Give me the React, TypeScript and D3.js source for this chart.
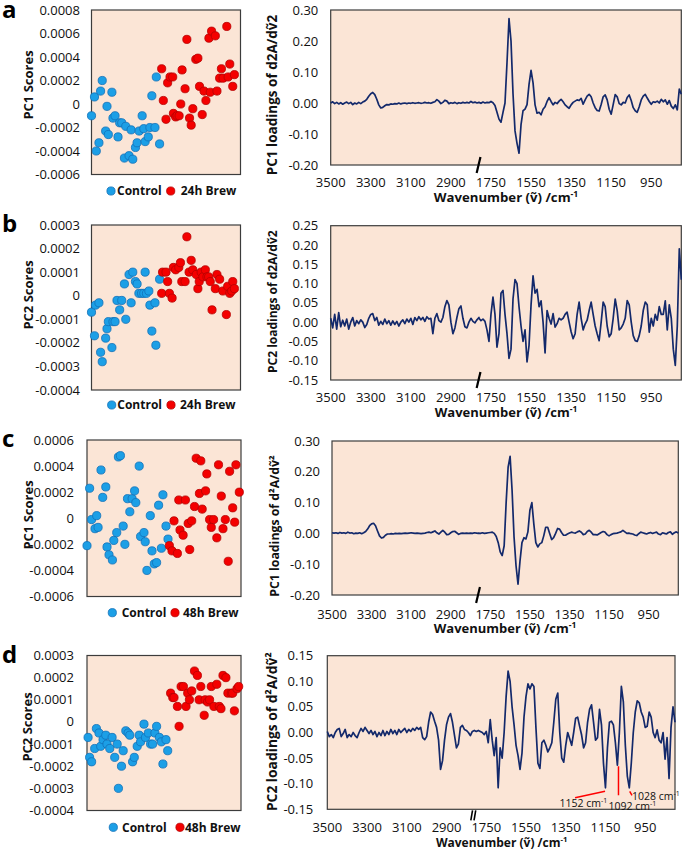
import React from "react";
import * as d3 from "d3";

const FONT = "'Open Sans', 'Liberation Sans', sans-serif";
const PANEL_BG = "#FBE5D6";
const FRAME = "#3c3c3c";
const LINE_COLOR = "#13296B";
const CONTROL_FILL = "#1C9FE6";
const CONTROL_STROKE = "#1270B8";
const BREW_FILL = "#F40000";
const BREW_STROKE = "#B50000";

const LOCALE = d3.formatLocale({ decimal: ".", thousands: ",", grouping: [3], currency: ["", ""], minus: "-" });
const fmtLoad = LOCALE.format(".2f");
const fmt4 = LOCALE.format(".4f");
const fmtScore = (v: number) => (Math.abs(v) < 1e-12 ? "0" : fmt4(v));

// ---- PCA scores: [sample position, score] ----
const scoresAControl: [number, number][] = [
  [0.0, -0.0001], [2.0, 0.00006], [3.2, -0.0004], [5.0, -0.00033], [6.1, 0.00011], [7.2, 0.0002],
  [9.5, -0.00023], [10.4, -0.00002], [11.3, -0.00026], [13.7, 0.0001], [14.4, -0.00012], [15.8, -0.0001],
  [17.8, -0.00028], [18.9, -0.00016], [20.3, -0.00016], [22.1, -0.00046], [23.0, -0.00019], [25.2, -0.00044],
  [26.6, -0.00022], [27.7, -0.00047], [29.5, -0.00037], [30.6, -0.00033], [32.0, -0.00023], [34.0, -0.0001],
  [35.1, -0.00021], [36.0, -0.00032], [38.1, -0.00028], [39.2, -0.0002], [40.5, 0.00007], [42.6, -0.0002],
  [43.5, 0.00023], [45.7, -0.00034],
];
const scoresABrew: [number, number][] = [
  [47.1, 0.0003], [48.2, 0.00003], [50.0, -0.00013], [51.1, 0.00018], [52.7, 0.00023], [54.5, 0.00023],
  [55.0, -0.00008], [56.5, -0.00011], [57.4, -0.0001], [58.8, -0.0001], [59.9, 0.0], [60.8, 0.00029],
  [62.8, 0.00013], [64.0, 0.00055], [65.8, -0.00012], [66.9, -0.00018], [68.0, -0.00004], [70.0, 0.00038],
  [71.4, 0.00039], [72.5, 0.00015], [74.3, -0.00009], [75.5, 0.00011], [76.8, 0.00003], [78.8, 0.00056],
  [79.7, 0.0001], [80.6, 0.00062], [83.1, 0.00058], [84.2, 0.00011], [86.0, 0.00022], [87.2, 0.0003],
  [88.3, 0.00022], [90.8, 0.00066], [91.7, 0.00023], [92.8, 0.00034], [94.8, 0.00015], [95.9, 0.00025],
];
const scoresBControl: [number, number][] = [
  [0.0, -0.00007], [2.0, -0.00017], [2.7, -0.00004], [5.0, -0.00003], [6.1, -0.00024], [7.2, -0.00028],
  [9.5, -0.00018], [10.4, -0.00014], [11.3, -0.00011], [13.7, -0.00022], [14.4, -0.00011], [15.8, -0.00011],
  [17.1, -0.00002], [18.9, -0.00006], [20.3, -0.00002], [22.1, 0.00005], [23.0, -0.0001], [25.2, 0.00009],
  [26.6, -0.00003], [27.7, 0.0001], [29.5, 0.00006], [30.6, 0.00005], [31.8, 0.00001], [33.6, 0.00001],
  [35.1, 0.00001], [36.0, 0.0001], [36.9, 0.00001], [38.5, 0.00002], [39.2, -0.00004], [40.5, -0.00015],
  [42.6, -0.00003], [43.2, -0.00021], [45.7, 0.00007],
];
const scoresBBrew: [number, number][] = [
  [47.1, 0.00001], [47.7, 0.0001], [50.0, 0.0001], [51.1, 0.00006], [52.3, 0.00001], [54.1, -0.00001],
  [55.0, 0.00012], [56.5, 0.00011], [58.6, 0.00012], [59.7, 0.00014], [60.6, 0.00006], [62.8, 0.00006],
  [64.0, 0.00025], [65.5, 0.0001], [66.9, 0.00015], [68.0, 0.00011], [70.3, 0.00009], [71.4, 0.00003],
  [72.3, 0.00006], [73.6, 0.0001], [74.8, 0.00008], [76.4, 0.00011], [77.5, 0.00008], [78.6, 0.00008],
  [79.7, 0.00006], [80.9, -0.00006], [83.1, 0.00003], [84.2, 0.00009], [86.0, 0.00007], [88.1, 0.00002],
  [90.5, -0.00008], [91.4, 0.00004], [92.8, 0.00001], [94.1, 0.00002], [94.8, 0.00006], [95.9, 0.00003],
];
const scoresCControl: [number, number][] = [
  [0.0, -0.00021], [1.7, 0.00023], [3.0, -0.00001], [5.2, -0.00008], [6.3, 0.00002], [7.2, -0.00007],
  [9.1, 0.00037], [10.2, 0.00016], [12.2, 0.00024], [13.0, -0.00022], [14.3, -0.00028], [16.5, -0.00032],
  [17.4, -0.00017], [19.3, -0.00011], [20.4, 0.00047], [21.7, 0.00048], [23.5, -0.00006], [24.6, -0.0002],
  [26.3, 0.00015], [27.8, 0.00005], [29.3, 0.00015], [30.9, 0.00021], [31.7, 0.00012], [33.9, 0.0004],
  [34.8, -0.00014], [37.0, -0.00011], [37.8, -0.00018], [38.9, -0.0004], [41.1, 0.00002], [42.2, -0.00025],
  [43.7, -0.00035], [45.2, -0.00034], [46.5, 0.0001], [48.3, -0.00023], [49.3, 0.00018], [51.3, -0.00006],
  [52.6, -0.00016],
];
const scoresCBrew: [number, number][] = [
  [53.5, -0.00021], [55.2, -0.00025], [56.5, -0.00002], [58.7, -0.00027], [59.6, 0.00014], [60.4, -0.00009],
  [62.4, -0.00013], [63.9, 0.00014], [65.7, -0.00004], [66.7, -0.00024], [68.0, -0.00002], [69.8, 0.00009],
  [70.9, 0.00046], [73.0, 0.00019], [73.9, 0.00044], [74.8, 0.00007], [77.0, 0.00021], [77.8, 0.00034],
  [79.6, -0.00001], [80.7, -0.00007], [82.2, -0.00001], [84.3, -0.00015], [85.4, 0.00041], [87.2, 0.00017],
  [88.3, -0.00008], [89.8, -0.00001], [91.7, -0.00033], [92.6, 0.00036], [94.6, 0.00008], [95.9, -0.00003],
  [96.7, 0.00041], [98.9, 0.0002],
];
const scoresDControl: [number, number][] = [
  [0.7, -0.00007], [1.7, -0.00016], [3.0, -0.00018], [5.0, -0.00012], [6.1, -0.00003], [7.8, -0.00005],
  [8.9, -0.00011], [10.4, -0.00008], [12.2, -0.00006], [13.0, -0.0001], [14.8, -0.00012], [16.3, -0.00007],
  [18.0, -0.00016], [19.6, -0.0001], [20.4, -0.0003], [22.4, -0.0002], [23.5, -0.00013], [25.2, -0.00004],
  [26.7, -0.00005], [27.8, -0.00006], [29.6, -0.00018], [30.7, -0.00016], [32.6, -0.00011], [33.9, -0.00006],
  [34.8, -0.00009], [37.0, -0.00001], [38.0, -0.00007], [39.8, -0.00005], [41.3, -0.0001], [42.6, -0.0001],
  [44.1, -0.00005], [45.2, -0.00002], [47.0, -0.00007], [48.3, -0.00009], [49.3, -0.00019], [51.3, -0.00008],
  [52.4, -0.00013],
];
const scoresDBrew: [number, number][] = [
  [54.3, 0.00013], [55.7, 0.00011], [56.5, 0.00011], [58.7, 0.00007], [59.8, -0.00002], [61.1, 0.00016],
  [62.6, 0.00016], [64.3, 0.00007], [65.4, 0.00013], [66.5, 0.0001], [68.0, 0.00014], [69.8, 0.00023],
  [71.7, 0.00021], [72.8, 0.0001], [73.9, 0.00016], [76.1, 0.00003], [76.7, 0.0001], [78.3, 0.00009],
  [79.6, 0.0001], [80.7, 0.00016], [82.4, 0.00007], [84.3, 0.00017], [85.9, 0.00007], [87.0, 0.00006],
  [88.3, 0.00021], [90.2, 0.0002], [91.5, 0.00013], [93.7, 0.00013], [94.6, 0.00013], [95.7, 0.00005],
  [97.4, 0.00015], [98.5, 0.00016],
];

// ---- Loadings spectra, sampled every 10 cm-1 on both sides of the axis break ----
const waveHigh = d3.range(3500, 2755, -10); // 3500 ... 2760
const waveLow = d3.range(1810, 795, -10); // 1810 ... 800
const waveTicks = [3500, 3300, 3100, 2900, 1750, 1550, 1350, 1150, 950];

const loadAHigh = [
  0.0, 0.004, -0.002, 0.002, -0.003, 0.001, -0.004, 0.0, 0.003, -0.002,
  0.002, -0.005, 0.0, -0.003, 0.002, -0.002, 0.003, 0.006, 0.012, 0.022,
  0.03, 0.034, 0.027, 0.012, -0.006, -0.016, -0.014, -0.009, -0.005, -0.006,
  -0.003, -0.004, -0.002, -0.003, 0.0, -0.003, -0.001, 0.0, -0.002, 0.0,
  -0.001, 0.001, -0.001, 0.0, 0.001, -0.001, 0.0, 0.002, 0.0, 0.001,
  -0.001, 0.002, 0.004, 0.011, 0.006, -0.002, 0.002, 0.009, 0.006, -0.002,
  0.001, -0.001, 0.002, -0.002, 0.001, -0.001, 0.002, 0.0, 0.002, 0.0,
  0.005, 0.001, 0.003, 0.0, 0.002,
];
const loadALow = [
  0.002, -0.001, 0.003, 0.0, 0.002, 0.001, 0.005, 0.001, -0.008, -0.03,
  -0.052, -0.062, -0.03, 0.0, 0.13, 0.272, 0.2, 0.03, -0.09, -0.13,
  -0.162, -0.07, -0.025, -0.02, -0.005, 0.06, 0.105, 0.065, -0.006, -0.033,
  -0.03, -0.038, -0.02, -0.012, 0.005, 0.017, 0.005, -0.006, 0.002, -0.002,
  0.006, 0.012, 0.004, -0.006, -0.012, -0.017, -0.006, 0.002, 0.006, 0.01,
  0.008, 0.015, -0.004, 0.01, 0.022, 0.028, 0.02, 0.0, -0.015, -0.024,
  -0.026, -0.005, 0.02, 0.026, 0.01, -0.02, -0.036, -0.005, 0.027, 0.02,
  -0.002, -0.006, 0.002, 0.0, 0.018, 0.026, 0.008, -0.015, -0.025, -0.03,
  -0.012, 0.01, 0.022, 0.028, 0.016, 0.005, -0.004, 0.004, 0.002, 0.006,
  0.0, 0.012, 0.004, 0.01, -0.004, 0.008, -0.01, -0.018, -0.006, -0.022,
  0.045, 0.028,
];
const loadBHigh = [
  0.01, -0.015, 0.02, -0.018, 0.025, -0.012, 0.005, -0.01, 0.008, -0.018,
  0.0, 0.012, -0.01, 0.004, -0.004, 0.006, 0.0, -0.014, -0.006, 0.01,
  0.02, 0.022, 0.004, 0.012, -0.008, 0.002, -0.006, 0.008, -0.004, 0.004,
  -0.008, 0.003, -0.006, 0.002, -0.01, 0.0, 0.006, -0.004, 0.008, 0.0,
  0.01, -0.006, 0.012, 0.004, 0.014, 0.006, 0.012, 0.002, 0.014, 0.008,
  0.01, -0.03, 0.01, 0.022, 0.004, 0.0, 0.012, 0.04, 0.056, 0.045,
  0.0, -0.03, -0.015, 0.012, 0.035, 0.042, 0.01, -0.012, -0.015, 0.0,
  0.01, 0.002, -0.002, 0.006, 0.012,
];
const loadBLow = [
  0.01, 0.004, 0.008, 0.002, -0.02, -0.05, 0.02, 0.065, 0.02, -0.065,
  -0.03, 0.075, 0.082, 0.02, -0.03, -0.094, -0.07, 0.06, 0.11, 0.1,
  0.04, -0.01, -0.05, -0.02, -0.103, -0.06, 0.044, 0.12, 0.075, 0.085,
  0.04, 0.055, 0.0, -0.08, 0.03, 0.01, -0.005, 0.022, -0.013, -0.004,
  0.01, 0.006, 0.01, 0.02, 0.026, 0.0, -0.025, -0.043, -0.03, 0.02,
  0.052, 0.01, -0.02, -0.005, 0.005, 0.03, 0.052, 0.02, -0.01, -0.03,
  -0.048, 0.0, 0.052, 0.04, -0.01, -0.038, -0.03, 0.01, 0.06, 0.03,
  -0.02, -0.015, -0.005, 0.01, 0.056, 0.045, 0.0, -0.035, -0.048, -0.05,
  -0.035, -0.01, 0.03, 0.052, 0.045, -0.026, 0.01, -0.01, 0.02, 0.005,
  0.04, 0.02, 0.02, 0.055, -0.02, 0.045, 0.01, -0.07, -0.112, -0.01,
  0.19, 0.11,
];
const loadCHigh = [
  0.002, 0.001, 0.002, 0.0, 0.003, 0.001, 0.002, 0.0, 0.004, 0.001,
  0.002, -0.001, 0.001, 0.0, 0.002, -0.001, 0.002, 0.006, 0.014, 0.025,
  0.031, 0.033, 0.025, 0.008, -0.008, -0.015, -0.013, -0.006, -0.002, -0.002,
  -0.001, -0.002, 0.0, -0.001, 0.0, -0.001, 0.0, 0.001, 0.0, 0.001,
  0.002, 0.001, 0.0, 0.001, 0.0, -0.001, 0.0, 0.001, 0.003, 0.004,
  0.002, 0.005, 0.008, 0.002, -0.002, 0.004, 0.01, 0.004, -0.004, -0.003,
  0.002, 0.006, 0.007, 0.002, -0.003, 0.0, 0.001, 0.0, 0.001, 0.0,
  0.001, 0.0, 0.002, 0.001, 0.0,
];
const loadCLow = [
  0.001, 0.0, 0.002, 0.0, 0.001, 0.002, 0.003, 0.004, 0.0, -0.01,
  -0.03, -0.06, -0.072, -0.04, 0.1, 0.215, 0.25, 0.14, -0.012, -0.105,
  -0.165, -0.09, -0.03, -0.014, -0.018, 0.005, 0.075, 0.1, 0.03, -0.03,
  -0.044, -0.034, -0.03, -0.008, 0.02, 0.02, 0.0, -0.02, -0.014, 0.0,
  0.016, 0.014, 0.003, -0.006, -0.006, -0.002, 0.001, 0.004, 0.002, 0.001,
  0.005, 0.008, 0.004, -0.004, -0.002, 0.006, 0.01, 0.004, -0.004, -0.004,
  -0.005, -0.001, 0.003, 0.006, 0.004, -0.004, -0.008, -0.004, -0.001, 0.0,
  0.001, 0.003, 0.005, 0.01, 0.005, 0.0, 0.001, -0.001, -0.002, -0.005,
  -0.007, -0.001, 0.004, 0.002, 0.0, -0.002, 0.001, 0.003, 0.0, 0.002,
  0.004, -0.002, -0.004, 0.002, 0.0, -0.002, 0.003, 0.005, -0.003, 0.002,
  0.005, 0.001,
];
const loadDHigh = [
  0.002, -0.008, -0.004, -0.01, 0.0, 0.006, 0.008, -0.008, -0.002, 0.006,
  -0.01, -0.004, -0.008, 0.0, -0.006, -0.01, 0.0, 0.008, 0.002, 0.01,
  0.004, -0.002, 0.004, -0.004, 0.002, -0.008, 0.0, -0.006, 0.004, -0.006,
  0.002, -0.004, 0.006, -0.002, 0.004, -0.004, 0.006, 0.0, 0.004, 0.008,
  0.0, 0.006, 0.002, 0.008, 0.004, 0.01, 0.006, 0.01, -0.01, -0.014,
  -0.008, 0.02, 0.04, 0.035, 0.022, 0.01, -0.015, -0.072, -0.055, -0.015,
  0.015, 0.03, 0.037, 0.02, -0.005, -0.03, -0.022, 0.01, 0.014, 0.006,
  0.004, 0.0, -0.006, 0.002, 0.004,
];
const loadDLow = [
  0.004, 0.002, 0.004, 0.002, 0.0, -0.004, 0.002, -0.02, 0.025, -0.015,
  -0.045, -0.01, -0.108, -0.03, -0.05, 0.0, 0.07, 0.12, 0.1, 0.05,
  0.015, -0.025, -0.045, -0.072, -0.04, 0.03, 0.07, 0.095, 0.085, 0.095,
  0.09, 0.01, -0.06, -0.07, -0.02, -0.015, -0.025, -0.038, -0.03, -0.02,
  0.02, 0.065, 0.077, 0.0, -0.05, -0.058, -0.025, 0.0, -0.012, -0.025,
  0.0, 0.028, 0.03, 0.012, -0.005, -0.03, -0.02, 0.02, 0.045, 0.054,
  0.02, -0.015, -0.01, 0.045, 0.015, -0.06, -0.108, -0.03, 0.02, 0.022,
  0.015, -0.02, -0.064, 0.0, 0.09, 0.06, -0.025, -0.085, -0.108, -0.06,
  0.0, 0.04, 0.062, 0.058, 0.04, 0.03, 0.01, 0.012, 0.04, 0.03,
  0.0, -0.01, 0.005, -0.015, -0.02, 0.0, -0.052, -0.01, -0.09, 0.01,
  0.05, 0.02,
];

// Marked troughs in the PC2 (48h) loadings
const markedBands = [1152, 1092, 1028];

// ---- layout ----
type Legend = { y: number; c1: number; t1: number; c2: number; t2: number };
type ScoreLayout = {
  letter: string; letterY: number;
  left: number; right: number; top: number; bottom: number;
  yDomain: [number, number]; tickCount: number; tickRight: number;
  title: string; titleX: number; titleY: number;
  control: [number, number][]; brew: [number, number][]; brewName: string; legend: Legend;
};
type SpecLayout = {
  left: number; right: number; top: number; bottom: number;
  yDomain: [number, number]; tickCount: number; tickRight: number; xTickY: number;
  title: string; titleSize: number; titleX: number; titleY: number;
  xTitleX: number; xTitleY: number; xTitleSize: number;
  high: number[]; low: number[]; doubleBreak: boolean; marks?: boolean;
};

const scoreLayouts: ScoreLayout[] = [
  {
    letter: "a", letterY: 17.5, left: 91.5, right: 240.5, top: 10, bottom: 174.5,
    yDomain: [-0.0006, 0.0008], tickCount: 7, tickRight: 80,
    title: "PC1 Scores", titleX: 28.5, titleY: 85,
    control: scoresAControl, brew: scoresABrew, brewName: "24h Brew",
    legend: { y: 191, c1: 111, t1: 117, c2: 170.7, t2: 180.7 },
  },
  {
    letter: "b", letterY: 232, left: 91.5, right: 240.5, top: 225, bottom: 390,
    yDomain: [-0.0004, 0.0003], tickCount: 7, tickRight: 80,
    title: "PC2 Scores", titleX: 28.5, titleY: 295,
    control: scoresBControl, brew: scoresBBrew, brewName: "24h Brew",
    legend: { y: 405, c1: 111.7, t1: 117.3, c2: 171, t2: 180 },
  },
  {
    letter: "c", letterY: 447, left: 87, right: 241, top: 440, bottom: 596.5,
    yDomain: [-0.0006, 0.0006], tickCount: 6, tickRight: 74,
    title: "PC1 Scores", titleX: 28.5, titleY: 515,
    control: scoresCControl, brew: scoresCBrew, brewName: "48h Brew",
    legend: { y: 612.7, c1: 112.3, t1: 121.7, c2: 175, t2: 183 },
  },
  {
    letter: "d", letterY: 663, left: 87, right: 241, top: 655.5, bottom: 810.5,
    yDomain: [-0.0004, 0.0003], tickCount: 7, tickRight: 74,
    title: "PC2 Scores", titleX: 27, titleY: 727,
    control: scoresDControl, brew: scoresDBrew, brewName: "48h Brew",
    legend: { y: 827.3, c1: 113.3, t1: 122, c2: 180, t2: 185 },
  },
];

const specLayouts: SpecLayout[] = [
  {
    left: 330.7, right: 681.3, top: 10, bottom: 165, yDomain: [-0.2, 0.3], tickCount: 5, tickRight: 318.3,
    xTickY: 182.8, title: "PC1 loadings of d2A/d\u1E7D2", titleSize: 13.5, titleX: 272.7, titleY: 95,
    xTitleX: 506, xTitleY: 197.5, xTitleSize: 13.2, high: loadAHigh, low: loadALow, doubleBreak: false,
  },
  {
    left: 330.7, right: 681.3, top: 225.7, bottom: 380, yDomain: [-0.15, 0.25], tickCount: 8, tickRight: 318.3,
    xTickY: 397.8, title: "PC2 loadings of d2A/d\u1E7D2", titleSize: 12, titleX: 272.7, titleY: 301.7,
    xTitleX: 506, xTitleY: 412.5, xTitleSize: 13, high: loadBHigh, low: loadBLow, doubleBreak: false,
  },
  {
    left: 332, right: 678.3, top: 441, bottom: 595, yDomain: [-0.2, 0.3], tickCount: 5, tickRight: 320,
    xTickY: 614, title: "PC1 loadings of d\u00B2A/d\u1E7D\u00B2", titleSize: 12.3, titleX: 275, titleY: 526,
    xTitleX: 505, xTitleY: 628.5, xTitleSize: 13, high: loadCHigh, low: loadCLow, doubleBreak: false,
  },
  {
    left: 327.3, right: 675, top: 655.7, bottom: 809.3, yDomain: [-0.15, 0.15], tickCount: 6, tickRight: 313.3,
    xTickY: 827, title: "PC2 loadings of d\u00B2A/d\u1E7D\u00B2", titleSize: 13.8, titleX: 271.7, titleY: 731.7,
    xTitleX: 501.7, xTitleY: 842.3, xTitleSize: 12, high: loadDHigh, low: loadDLow, doubleBreak: true, marks: true,
  },
];

function ScorePanel({ p }: { p: ScoreLayout }) {
  const x = d3.scaleLinear().domain([0, 100]).range([p.left, p.right]);
  const y = d3.scaleLinear().domain(p.yDomain).range([p.bottom, p.top]);
  const ticks = y.ticks(p.tickCount);
  const r = 4.1;
  return (
    <g>
      <text x={2} y={p.letterY} fontSize={24} fontWeight={700} fill="#000">{p.letter}</text>
      <rect x={p.left} y={p.top} width={p.right - p.left} height={p.bottom - p.top} fill={PANEL_BG} stroke={FRAME} strokeWidth={1.2} />
      {ticks.map((t) => (
        <text key={t} x={p.tickRight} y={y(t)} dy="0.35em" textAnchor="end" fontSize={13} fill="#111">{fmtScore(t)}</text>
      ))}
      <text transform={`translate(${p.titleX},${p.titleY}) rotate(-90)`} textAnchor="middle" dy="0.35em" fontSize={13} fontWeight={700} fill="#111">{p.title}</text>
      {p.control.map((d, i) => (
        <circle key={`c${i}`} cx={x(d[0])} cy={y(d[1])} r={r} fill={CONTROL_FILL} stroke={CONTROL_STROKE} strokeWidth={0.8} />
      ))}
      {p.brew.map((d, i) => (
        <circle key={`b${i}`} cx={x(d[0])} cy={y(d[1])} r={r} fill={BREW_FILL} stroke={BREW_STROKE} strokeWidth={0.8} />
      ))}
      <circle cx={p.legend.c1} cy={p.legend.y} r={r} fill={CONTROL_FILL} stroke={CONTROL_STROKE} strokeWidth={0.8} />
      <text x={p.legend.t1} y={p.legend.y} dy="0.35em" fontSize={12} fontWeight={700} fill="#111">Control</text>
      <circle cx={p.legend.c2} cy={p.legend.y} r={r} fill={BREW_FILL} stroke={BREW_STROKE} strokeWidth={0.8} />
      <text x={p.legend.t2} y={p.legend.y} dy="0.35em" fontSize={12} fontWeight={700} fill="#111">{p.brewName}</text>
    </g>
  );
}

function SpectrumPanel({ p }: { p: SpecLayout }) {
  const width = p.right - p.left;
  const xb = p.left + (148 / 350) * width;
  const x = d3.scaleLinear().domain([3500, 2760, 1810, 800]).range([p.left, xb, xb, p.right]);
  const y = d3.scaleLinear().domain(p.yDomain).range([p.bottom, p.top]);
  const ticks = y.ticks(p.tickCount);
  const pts: [number, number][] = [
    ...waveHigh.map((w, i) => [w, p.high[i]] as [number, number]),
    ...waveLow.map((w, i) => [w, p.low[i]] as [number, number]),
  ];
  const path = d3.line<[number, number]>().x((d) => x(d[0])).y((d) => y(d[1]))(pts) || "";
  // loading value at the sample nearest a marked band
  const lowAt = (w: number) => {
    const i = d3.minIndex(waveLow, (v) => Math.abs(v - w));
    return p.low[i];
  };
  const band = (w: number) => ({ bx: x(w), by: y(lowAt(w)) });
  const b0 = band(markedBands[0]);
  const b1 = band(markedBands[1]);
  const b2 = band(markedBands[2]);
  return (
    <g>
      <rect x={p.left} y={p.top} width={width} height={p.bottom - p.top} fill={PANEL_BG} stroke={FRAME} strokeWidth={1.2} />
      <path d={path} fill="none" stroke={LINE_COLOR} strokeWidth={1.7} strokeLinejoin="round" />
      {ticks.map((t) => (
        <text key={t} x={p.tickRight} y={y(t)} dy="0.35em" textAnchor="end" fontSize={13} fill="#111">{fmtLoad(t)}</text>
      ))}
      {waveTicks.map((w) => (
        <text key={w} x={x(w)} y={p.xTickY} dy="0.35em" textAnchor="middle" fontSize={13} fill="#111">{w}</text>
      ))}
      {p.doubleBreak ? (
        <g stroke="#000" strokeWidth={1.6}>
          <line x1={xb - 3.5} y1={p.bottom + 11} x2={xb - 1.8} y2={p.bottom + 1} />
          <line x1={xb - 0.3} y1={p.bottom + 11} x2={xb + 1.4} y2={p.bottom + 1} />
        </g>
      ) : (
        <line x1={xb - 2.3} y1={p.bottom + 8} x2={xb + 1.5} y2={p.bottom - 8} stroke="#000" strokeWidth={2.2} />
      )}
      <text transform={`translate(${p.titleX},${p.titleY}) rotate(-90)`} textAnchor="middle" dy="0.35em" fontSize={p.titleSize} fontWeight={700} fill="#111">{p.title}</text>
      <text x={p.xTitleX} y={p.xTitleY} dy="0.35em" textAnchor="middle" fontSize={p.xTitleSize} fontWeight={700} fill="#111">
        Wavenumber ({"\u1E7D"}) /cm<tspan dy={-5} fontSize={p.xTitleSize * 0.65}>-1</tspan>
      </text>
      {p.marks && (
        <g fontSize={10.5} fill="#111">
          <line x1={b0.bx} y1={b0.by + 3.5} x2={b0.bx - 30} y2={b0.by + 10} stroke="#FF0000" strokeWidth={1.5} />
          <text x={b0.bx - 45.5} y={b0.by + 19}>
            {markedBands[0]} cm<tspan dy={-4} fontSize={7}>-1</tspan>
          </text>
          <line x1={b1.bx + 1.5} y1={b1.by + 1} x2={b1.bx + 1.5} y2={b1.by + 30} stroke="#FF0000" strokeWidth={1.5} />
          <text x={b1.bx - 8.5} y={b1.by + 45}>
            {markedBands[1]} cm<tspan dy={-4} fontSize={7}>-1</tspan>
          </text>
          <line x1={b2.bx} y1={b2.by + 3.5} x2={b2.bx + 2.3} y2={b2.by + 7.5} stroke="#FF0000" strokeWidth={1.5} />
          <text x={b2.bx + 2.3} y={b2.by + 12}>
            {markedBands[2]} cm<tspan dy={-4} fontSize={7}>-1</tspan>
          </text>
        </g>
      )}
    </g>
  );
}

export default function App() {
  return (
    <svg
      width={682}
      height={850}
      viewBox="0 0 682 850"
      style={{ position: "absolute", left: 0, top: 0, display: "block" }}
      fontFamily={FONT}
    >
      <rect x={0} y={0} width={682} height={850} fill="#fff" />
      {scoreLayouts.map((p) => (
        <ScorePanel key={p.letter} p={p} />
      ))}
      {specLayouts.map((p, i) => (
        <SpectrumPanel key={i} p={p} />
      ))}
    </svg>
  );
}
